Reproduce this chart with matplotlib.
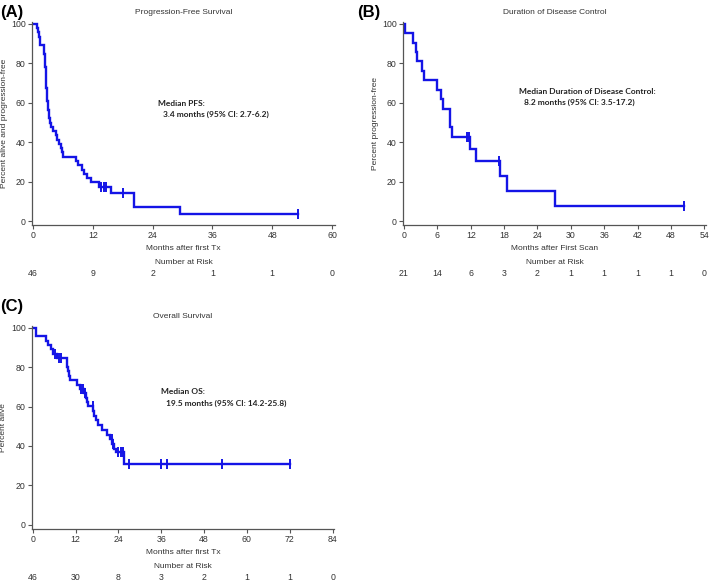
import numpy as np
import matplotlib
matplotlib.use("Agg")
import matplotlib.pyplot as plt
from matplotlib.transforms import blended_transform_factory

# ---------------- data ----------------
pfs_time = [0, 0.75, 1.0, 1.2, 1.35, 1.5, 2.2, 2.3, 2.4, 2.45, 2.5, 2.53, 2.56, 2.6, 2.63,
            2.66, 2.72, 2.78, 2.85, 2.95, 3.05, 3.15, 3.3, 3.45, 3.6, 4.1, 4.6, 4.9, 5.3,
            5.6, 5.8, 6.1, 8.7, 9.0, 9.8, 10.3, 10.8, 11.6, 13.3, 15.7, 20.2, 29.4]
pfs_surv = [100, 97.8, 95.7, 93.5, 91.3, 89.1, 87.0, 84.8, 82.6, 80.4, 78.3, 76.1, 73.9,
            71.7, 69.6, 67.4, 65.2, 63.0, 60.9, 58.7, 56.5, 54.3, 52.2, 50.0, 47.8, 45.7,
            43.5, 41.3, 39.1, 37.0, 34.8, 32.6, 30.4, 28.3, 26.1, 23.9, 21.7, 19.6, 17.4,
            14.4, 7.2, 3.6]
pfs_censor = [13.7, 14.2, 14.7, 18.1, 53.1]
pfs_risk_t = [0, 12, 24, 36, 48, 60]
pfs_risk_n = [46, 9, 2, 1, 1, 0]
pfs_xticks = [0, 12, 24, 36, 48, 60]

ddc_time = [0, 0.1, 1.7, 2.15, 2.4, 3.2, 3.6, 5.9, 6.6, 7.0, 8.2, 8.3, 8.55, 11.9, 12.95,
            17.2, 18.5, 27.1]
ddc_surv = [100, 95.2, 90.5, 85.7, 81.0, 76.2, 71.4, 66.7, 61.9, 57.1, 52.4, 47.6, 42.9,
            36.7, 30.6, 22.9, 15.3, 7.6]
ddc_censor = [11.3, 11.6, 17.0, 50.3]
ddc_risk_t = [0, 6, 12, 18, 24, 30, 36, 42, 48, 54]
ddc_risk_n = [21, 14, 6, 3, 2, 1, 1, 1, 1, 0]
ddc_xticks = [0, 6, 12, 18, 24, 30, 36, 42, 48, 54]

os_time = [0, 1.0, 3.6, 4.4, 5.2, 5.8, 6.7, 9.5, 9.7, 9.9, 10.1, 10.4, 12.4, 13.2, 14.3,
           14.8, 15.2, 15.5, 17.0, 17.3, 17.6, 18.4, 19.5, 20.8, 21.6, 22.3, 22.8, 23.3, 25.6]
os_surv = [100, 95.7, 93.5, 91.3, 89.1, 87.0, 84.8, 82.5, 80.2, 77.9, 75.6, 73.3, 71.0,
           68.9, 66.7, 64.5, 62.3, 60.2, 57.8, 55.4, 53.0, 50.6, 48.2, 45.8, 43.4, 41.0,
           38.6, 36.9, 30.8]
os_censor = [6.2, 7.4, 8.0, 13.6, 14.0, 14.6, 16.8, 22.1, 22.6, 23.9, 24.6, 25.4, 27.0,
             36.0, 37.6, 52.9, 72.1]
os_risk_t = [0, 12, 24, 36, 48, 60, 72, 84]
os_risk_n = [46, 30, 8, 3, 2, 1, 1, 0]
os_xticks = [0, 12, 24, 36, 48, 60, 72, 84]

yticks = [0, 20, 40, 60, 80, 100]

# ---------------- figure ----------------
W, H = 709, 582
fig = plt.figure(figsize=(W / 100, H / 100), dpi=100)
plt.rcParams['font.family'] = ['Liberation Sans', 'DejaVu Sans']

TXT = '#333333'
AXC = '#555555'
BLUE = '#1414E6'
LAB = 6.0


def ftext(x, y, s, **kw):
    fig.text(x / W, 1 - y / H, s, **kw)


def km_panel(l, t, r, b, xlim, ylim, times, surv, cens, xticks, title, ylabel,
             xlabel, risk_t, risk_n, letter, letter_xy, title_y, ylab_x,
             med1, med2, med_xy, xlab_y, risk_lab_y, risk_y):
    ax = fig.add_axes([l / W, 1 - b / H, (r - l) / W, (b - t) / H])
    end = max(cens[-1], times[-1])
    ax.step(list(times) + [end], list(surv) + [surv[-1]], where='post',
            color=BLUE, lw=1.7, solid_joinstyle='miter')
    idx = np.searchsorted(times, cens, side='right') - 1
    cy = [surv[i] for i in idx]
    ax.plot(cens, cy, ls='none', marker='|', ms=7, mew=1.4, color=BLUE)
    ax.set_xlim(*xlim)
    ax.set_ylim(*ylim)
    ax.set_xticks(xticks)
    ax.set_yticks(yticks)
    for s in ['top', 'right']:
        ax.spines[s].set_visible(False)
    for s in ['left', 'bottom']:
        ax.spines[s].set_color(AXC)
        ax.spines[s].set_linewidth(0.9)
    ax.tick_params(colors=AXC, labelcolor=TXT, labelsize=6.3, length=3, width=0.8, pad=1.5)
    ax.patch.set_alpha(0)
    cx = (l + r) / 2
    ftext(cx, title_y, title, ha='center', va='center', fontsize=LAB, color=TXT)
    ftext(letter_xy[0], letter_xy[1], letter, ha='left', va='center', fontsize=12,
          fontweight='bold', color='black')
    ftext(ylab_x, (t + b) / 2, ylabel, ha='center', va='center', rotation=90,
          fontsize=LAB, color=TXT)
    ftext(cx, xlab_y, xlabel, ha='center', va='center', fontsize=LAB, color=TXT)
    ftext(cx, risk_lab_y, 'Number at Risk', ha='center', va='center', fontsize=LAB, color=TXT)
    tr = blended_transform_factory(ax.transData, fig.transFigure)
    for xt, n in zip(risk_t, risk_n):
        ax.text(xt, 1 - risk_y / H, str(n), transform=tr, ha='center', va='center',
                fontsize=6.3, color=TXT, clip_on=False)
    ftext(med_xy[0], med_xy[1], med1, ha='left', va='center', fontsize=6.0,
          fontweight='bold', color='#222222', family=['Lato', 'DejaVu Sans'])
    ftext(med_xy[0] + 5, med_xy[1] + 11, med2, ha='left', va='center', fontsize=6.0,
          fontweight='bold', color='#222222', family=['Lato', 'DejaVu Sans'])
    return ax


km_panel(32, 22, 335, 225, (-0.2, 60.6), (-2, 101), pfs_time, pfs_surv, pfs_censor,
         pfs_xticks, 'Progression-Free Survival', 'Percent alive and progression-free',
         'Months after first Tx', pfs_risk_t, pfs_risk_n, '(A)', (0, 12), 13, 5,
         'Median PFS:', '3.4 months (95% CI: 2.7-6.2)', (158, 103), 249, 263, 273)

km_panel(403, 22, 706, 225, (-0.18, 54.3), (-2, 101), ddc_time, ddc_surv, ddc_censor,
         ddc_xticks, 'Duration of Disease Control', 'Percent progression-free',
         'Months after First Scan', ddc_risk_t, ddc_risk_n, '(B)', (357, 12), 13, 376,
         'Median Duration of Disease Control:', '8.2 months (95% CI: 3.5-17.2)',
         (519, 91), 249, 263, 273)

km_panel(32, 326, 334, 529, (-0.2, 84.4), (-2.2, 101), os_time, os_surv, os_censor,
         os_xticks, 'Overall Survival', 'Percent alive',
         'Months after first Tx', os_risk_t, os_risk_n, '(C)', (0, 306), 316, 4,
         'Median OS:', '19.5 months (95% CI: 14.2-25.8)', (161, 392), 553, 567, 577)

fig.savefig('out.png', dpi=100)
